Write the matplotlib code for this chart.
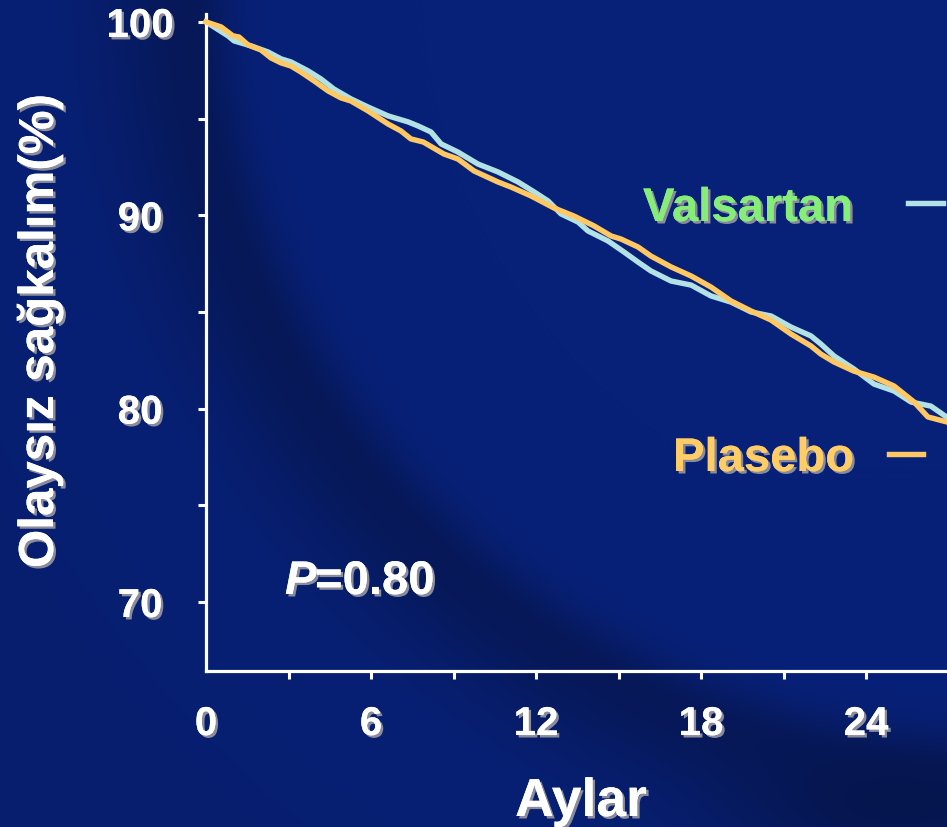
import matplotlib
matplotlib.use("Agg")
import matplotlib.pyplot as plt
import matplotlib.patheffects as pe
from matplotlib.lines import Line2D
import numpy as np

# Event-free survival (%) by month
valsartan_months = [0.00, 0.80, 1.02, 1.64, 2.25, 2.73, 3.09, 3.71, 4.18, 4.65,
                    5.27, 5.89, 6.62, 7.35, 7.71, 8.18, 8.55, 9.16, 9.89, 10.62,
                    11.35, 11.93, 12.44, 12.91, 13.53, 13.89, 14.62, 15.20, 15.71,
                    16.18, 16.91, 17.64, 18.36, 19.09, 19.82, 20.55, 21.27, 22.00,
                    22.36, 22.84, 23.56, 24.29, 25.02, 25.64, 26.36, 27.10]
valsartan_surv = [100.00, 99.28, 99.02, 98.76, 98.45, 98.09, 97.93, 97.47, 97.05, 96.53,
                  96.02, 95.60, 95.14, 94.83, 94.62, 94.31, 93.69, 93.27, 92.65, 92.24,
                  91.72, 91.21, 90.74, 90.07, 89.65, 89.19, 88.67, 88.10, 87.58,
                  87.12, 86.60, 86.39, 85.83, 85.51, 85.00, 84.79, 84.22, 83.76,
                  83.34, 82.72, 82.05, 81.27, 80.91, 80.34, 80.13, 79.40]

placebo_months = [0.00, 0.55, 0.98, 1.20, 1.53, 2.00, 2.36, 2.73, 3.09, 3.45,
                  3.93, 4.44, 4.91, 5.27, 5.89, 6.62, 7.09, 7.45, 7.90, 8.65,
                  9.16, 9.75, 10.62, 11.09, 11.82, 12.65, 13.38, 14.11, 14.73,
                  15.09, 15.71, 16.18, 16.91, 17.64, 18.36, 19.09, 19.82, 20.55,
                  21.27, 22.00, 22.36, 22.84, 23.56, 24.29, 25.02, 25.75, 26.25, 27.10]
placebo_surv = [100.00, 99.74, 99.28, 99.22, 98.81, 98.55, 98.14, 97.88, 97.72, 97.41,
                96.95, 96.43, 96.07, 95.91, 95.40, 94.72, 94.36, 93.95, 93.79, 93.17,
                92.91, 92.29, 91.72, 91.46, 91.00, 90.38, 89.96, 89.45, 88.93,
                88.77, 88.36, 87.89, 87.33, 86.86, 86.29, 85.57, 85.05, 84.58,
                83.86, 83.24, 82.82, 82.41, 81.94, 81.63, 81.17, 80.34, 79.57, 79.25]

x_ticks = [0, 3, 6, 9, 12, 15, 18, 21, 24, 27]
x_labels = ["0", "", "6", "", "12", "", "18", "", "24", ""]
y_ticks = [70, 75, 80, 85, 90, 95, 100]
y_labels = ["70", "", "80", "", "90", "", "100"]

series_names = ["Valsartan", "Plasebo"]
line_colors = ["#B3E2E6", "#FFC862"]
name_colors = ["#86EE78", "#FFCC66"]

W, H = 947, 828
FONT = "Liberation Sans"
shadow = [pe.withSimplePatchShadow(offset=(1.8, -1.8), shadow_rgbFace="#8a8c9c", alpha=1.0),
          pe.Normal()]

fig = plt.figure(figsize=(W / 100, H / 100), dpi=100)

# backdrop: navy field with a soft dark curved band
bg = fig.add_axes([0, 0, 1, 1], zorder=0)
bg.axis("off")
yy, xx = np.mgrid[0:H, 0:W]
r = np.hypot(xx - 990.0, yy + 30.0)
t = r - 800.0
band = np.where(t < 0, np.exp(-(t / 38.0) ** 2), np.exp(-(t / 85.0) ** 2))
outer = np.clip(t / 400.0, 0, 1) * 0.15
corner = np.exp(-(((xx - 880) / 160.0) ** 2 + ((yy - 830) / 60.0) ** 2)) * 0.3
dark = np.clip(0.48 * band + outer + corner, 0, 0.7)
base = np.array([8, 33, 120]) / 255.0
deep = np.array([4, 15, 55]) / 255.0
img = base * (1 - dark[..., None]) + deep * dark[..., None]
bg.imshow(img, extent=[0, W, H, 0], aspect="auto", interpolation="bilinear")
bg.set_xlim(0, W)
bg.set_ylim(H, 0)

# plot area: y axis at x=206 px, x axis at y=672 px
ax = fig.add_axes([206 / W, 156 / H, 825 / W, 657 / H], zorder=1)
ax.patch.set_alpha(0)
ax.set_xlim(0, 30)
ax.set_ylim(66.43, 100.41)

ax.plot(valsartan_months, valsartan_surv, color=line_colors[0], lw=3.9,
        solid_joinstyle="round", clip_on=False, zorder=2)
ax.plot(placebo_months, placebo_surv, color=line_colors[1], lw=3.9,
        solid_joinstyle="round", clip_on=False, zorder=3)

for s in ["top", "right"]:
    ax.spines[s].set_visible(False)
for s in ["left", "bottom"]:
    ax.spines[s].set_color("white")
    ax.spines[s].set_linewidth(2.3)

ax.set_xticks(x_ticks)
ax.set_xticklabels(x_labels)
ax.set_yticks(y_ticks)
ax.set_yticklabels(y_labels)
ax.tick_params(axis="both", colors="white", length=6, width=2.2, direction="out")
ax.tick_params(axis="x", pad=18.5)
ax.tick_params(axis="y", pad=41.5)
ax.xaxis.get_major_ticks()[0].tick1line.set_visible(False)

for lbl in ax.get_xticklabels() + ax.get_yticklabels():
    lbl.set_fontfamily(FONT)
    lbl.set_fontweight("bold")
    lbl.set_fontsize(29)
    lbl.set_color("white")
    lbl.set_path_effects(shadow)
for lbl in ax.get_yticklabels():
    lbl.set_horizontalalignment("center")


def ftext(px, py, s, **kw):
    kw.setdefault("fontfamily", FONT)
    kw.setdefault("fontweight", "bold")
    return fig.text(px / W, 1 - py / H, s, path_effects=shadow, **kw)


# axis titles
ftext(581, 817, "Aylar", fontsize=38.5, color="white", ha="center", va="baseline")
ftext(40, 332, "Olaysız sağkalım(%)", fontsize=35.5, color="white",
      ha="center", va="center", rotation=90)

# p-value
ftext(285, 595, "P", fontsize=34, color="white", style="italic", va="baseline")
ftext(315, 595, "=0.80", fontsize=34, color="white", va="baseline")

# series names with line keys
ftext(643, 222, series_names[0], fontsize=34, color=name_colors[0], va="baseline")
ftext(673, 472, series_names[1], fontsize=34, color=name_colors[1], va="baseline")
fig.add_artist(Line2D([908 / W, 943 / W], [1 - 204 / H] * 2, color=line_colors[0], lw=3.9))
fig.add_artist(Line2D([889 / W, 923 / W], [1 - 455 / H] * 2, color=line_colors[1], lw=3.9))

fig.savefig("out.png", dpi=100)
